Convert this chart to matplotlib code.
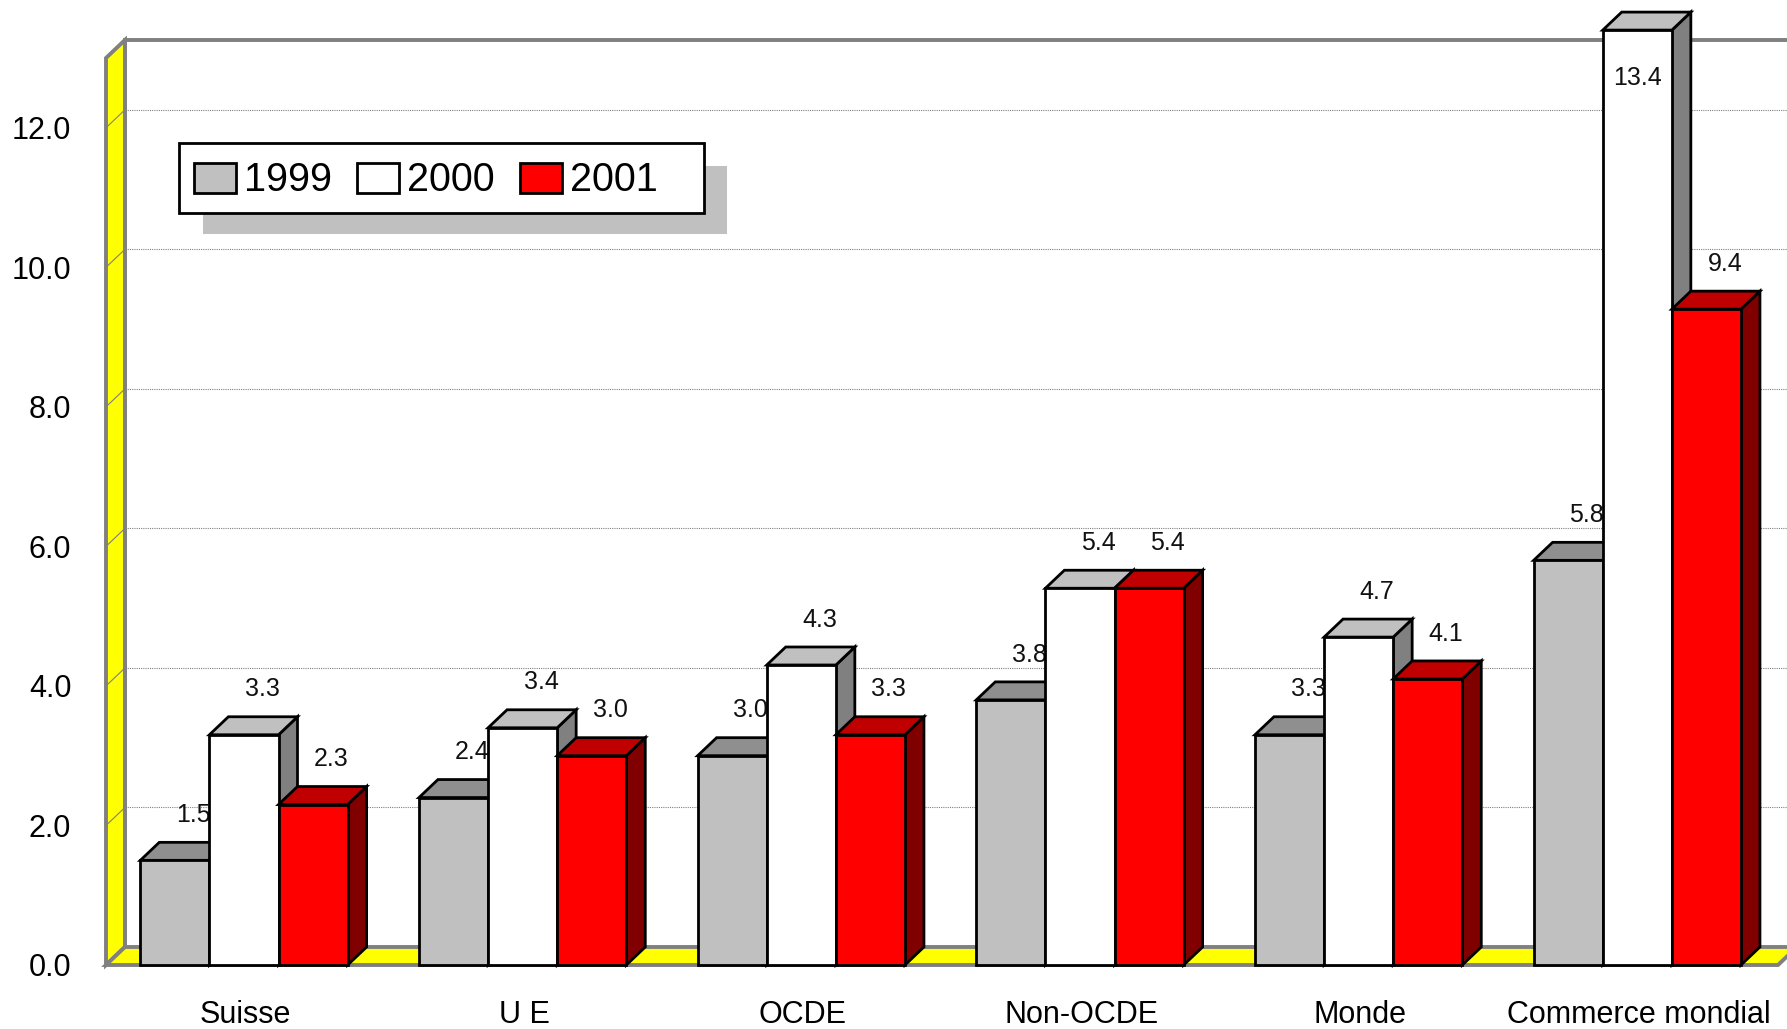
import matplotlib
matplotlib.use('Agg')
import matplotlib.pyplot as plt
from matplotlib.patches import Polygon, Rectangle
from matplotlib.transforms import Affine2D

plt.rcParams['font.family'] = ['Liberation Sans', 'DejaVu Sans']

# données : croissance en %
regions = ['Suisse', 'U E', 'OCDE', 'Non-OCDE', 'Monde', 'Commerce mondial']
annees = ['1999', '2000', '2001']
v1999 = [1.5, 2.4, 3.0, 3.8, 3.3, 5.8]
v2000 = [3.3, 3.4, 4.3, 5.4, 4.7, 13.4]
v2001 = [2.3, 3.0, 3.3, 5.4, 4.1, 9.4]
yticks = [0, 2, 4, 6, 8, 10, 12]

series = [v1999, v2000, v2001]
# couleurs : face avant, dessus, côté
couleurs = [('#C0C0C0', '#8F8F8F', '#606060'),
            ('#FFFFFF', '#C0C0C0', '#808080'),
            ('#FF0000', '#C00000', '#800000')]

W, H = 1787, 1029
fig = plt.figure(figsize=(W / 100, H / 100), dpi=100)
ax = fig.add_axes([106 / W, 1 - 965 / H, (1778 - 106) / W, (965 - 58) / H])
ymax = 13
ax.set_xlim(-0.5, 5.5)
ax.set_ylim(0, ymax)
for s in ax.spines.values():
    s.set_visible(False)

# effet 3D : profondeur en unités de données
DX, DY = 0.068, 0.258
largeur = 0.248
gris = '#808080'

# mur du fond + grille
x0, x1 = -0.5, 5.5
ax.add_patch(Rectangle((x0 + DX, DY), x1 - x0, ymax, facecolor='white',
                       edgecolor='none', zorder=0, clip_on=False))
for y in yticks[1:]:
    ax.plot([x0 + DX, x1 + DX], [y + DY, y + DY], color=gris, lw=0.8,
            ls=(0, (1, 1)), zorder=1, clip_on=False)
ax.plot([x0 + DX, x0 + DX, x1 + DX + 0.1], [DY, ymax + DY, ymax + DY],
        color=gris, lw=2.8, zorder=1, clip_on=False, solid_joinstyle='miter')

# mur de gauche et sol jaunes
ax.add_patch(Polygon([(x0, 0), (x0, ymax), (x0 + DX, ymax + DY), (x0 + DX, DY)],
                     closed=True, facecolor='#FFFF00', edgecolor=gris, lw=2.8,
                     zorder=2, clip_on=False))
for y in yticks[1:]:
    ax.plot([x0, x0 + DX], [y, y + DY], color=gris, lw=0.8, zorder=2.1, clip_on=False)
ax.add_patch(Polygon([(x0, 0), (x1, 0), (x1 + DX, DY), (x0 + DX, DY)],
                     closed=True, facecolor='#FFFF00', edgecolor=gris, lw=2.8,
                     zorder=2, clip_on=False))

# barres 3D
z = 3
for i in range(len(regions)):
    for j, vals in enumerate(series):
        v = vals[i]
        xl = i - 1.5 * 0.2512 + j * largeur
        xr = xl + largeur
        face, dessus, cote = couleurs[j]
        kw = dict(closed=True, edgecolor='black', lw=2, zorder=z,
                  clip_on=False, joinstyle='miter')
        ax.add_patch(Polygon([(xr, 0), (xr + DX, DY), (xr + DX, v + DY), (xr, v)],
                             facecolor=cote, **kw))
        ax.add_patch(Polygon([(xl, v), (xr, v), (xr + DX, v + DY), (xl + DX, v + DY)],
                             facecolor=dessus, **kw))
        ax.add_patch(Polygon([(xl, 0), (xr, 0), (xr, v), (xl, v)],
                             facecolor=face, **kw))
        xc = (xl + xr) / 2
        if v + 0.66 > ymax:
            tx, ty = xc, v - 0.68
        else:
            tx, ty = xc + 0.066, v + 0.65
        ax.text(tx, ty, f'{v:.1f}', ha='center', va='center', fontsize=18,
                color='#111111', zorder=z + 0.5, clip_on=False)
        z += 1

ax.set_yticks(yticks)
ax.set_yticklabels([f'{t:.1f}' for t in yticks], fontsize=22)
ax.set_xticks(range(len(regions)))
ax.set_xticklabels(regions, fontsize=22)
ax.tick_params(axis='y', length=0, pad=25)
ax.tick_params(axis='x', length=0, pad=25)

# légende avec ombre, en pixels de la figure
px = Affine2D().scale(1 / W, -1 / H).translate(0, 1) + fig.transFigure
fig.add_artist(Rectangle((203, 166), 524, 68, transform=px, facecolor='#C0C0C0',
                         edgecolor='none', zorder=20))
fig.add_artist(Rectangle((179, 143), 525, 70, transform=px, facecolor='white',
                         edgecolor='black', lw=2, zorder=21))
for k, nom in enumerate(annees):
    sx = 194 + k * 163
    fig.add_artist(Rectangle((sx, 163), 42, 30, transform=px,
                             facecolor=couleurs[k][0], edgecolor='black',
                             lw=2, zorder=22))
    fig.text((sx + 50) / W, 1 - 180 / H, nom, fontsize=28.5, va='center',
             ha='left', zorder=22)

fig.savefig('out.png', dpi=100)
